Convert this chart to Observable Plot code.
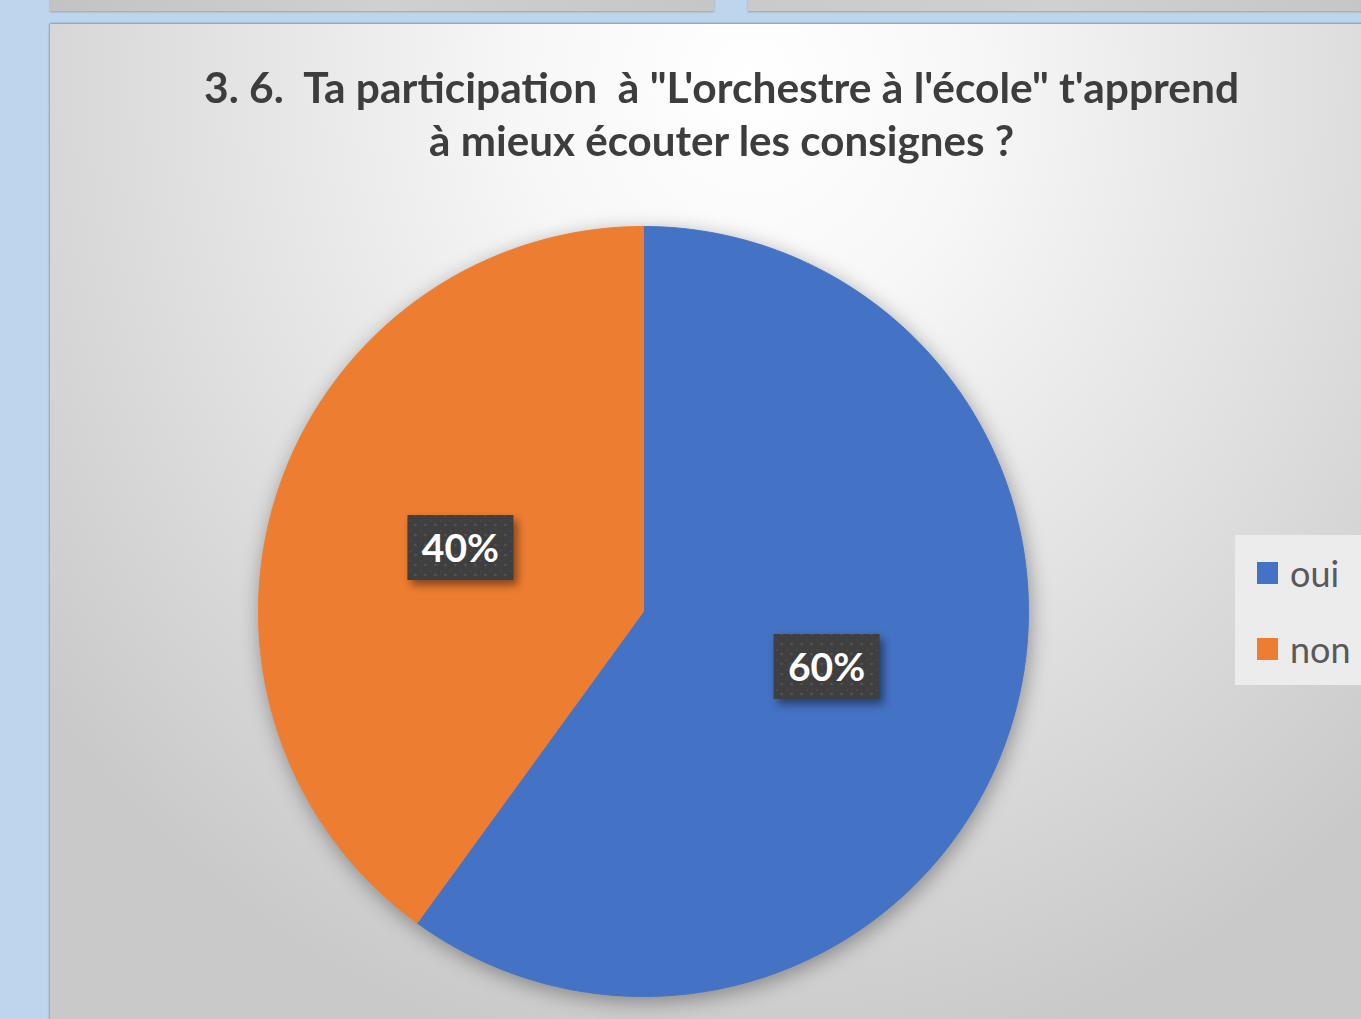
<!DOCTYPE html>
<html>
<head>
<meta charset="utf-8">
<script src="https://cdn.jsdelivr.net/npm/d3@7"></script>
<script src="https://cdn.jsdelivr.net/npm/@observablehq/plot@0.6"></script>
<style>
  html, body { margin: 0; padding: 0; }
  body { width: 1361px; height: 1019px; overflow: hidden; position: relative; background: #bdd6ee; font-family: Lato, "Open Sans", sans-serif; }
  .top1 { position: absolute; left: 50px; top: -4px; width: 664px; height: 15px; background: linear-gradient(90deg,#c3c3c3,#d0d0d0 50%,#c6c6c6); box-shadow: 0 1px 2px rgba(0,0,0,0.25); }
  .top2 { position: absolute; left: 748px; top: -4px; width: 620px; height: 15px; background: linear-gradient(90deg,#cacaca,#d0d0d0 50%,#c6c6c6); box-shadow: 0 1px 2px rgba(0,0,0,0.25); }
  .panel { position: absolute; left: 50px; top: 24px; width: 1330px; height: 1010px;
    background: radial-gradient(ellipse 900px 1000px at 700px 60px, #ffffff 0%, #f7f7f7 25%, #e2e2e2 60%, #c9c9c9 100%);
    box-shadow: 0 -1px 2px rgba(0,0,0,0.25), -1px 0 2px rgba(0,0,0,0.15); }
  .title { position: absolute; left: 0; top: 61px; width: 1443px; text-align: center; color: #3d3d3d; font-weight: 700; font-size: 42px; line-height: 53px; }
  .title span { display: inline-block; white-space: pre; transform-origin: center; }
  #chart { position: absolute; left: 0; top: 0; }
  #chart g[aria-label="line"] { filter: drop-shadow(2px 5px 10px rgba(0,0,0,0.35)); }
  .legend { position: absolute; left: 1235px; top: 535px; width: 140px; height: 150px; background: #ececec; }
  .item { position: absolute; left: 22px; height: 40px; color: #595959; font-size: 36px; line-height: 40px; }
  .item i { position: absolute; left: 0; top: 9px; width: 21px; height: 22px; }
  .item b { position: absolute; left: 33px; top: 0; font-weight: 400; white-space: nowrap; }
</style>
</head>
<body>
<div class="top1"></div>
<div class="top2"></div>
<div class="panel"></div>
<div class="title" id="title"></div>
<div id="chart"></div>
<div class="legend" id="legend"></div>
<script>
// ---- data ----
const titleLines = ["3. 6.  Ta participation  à \"L'orchestre à l'école\" t'apprend", "à mieux écouter les consignes ?"];
const categories = ["oui", "non"];
const values = [60, 40];
const pctLabels = ["60%", "40%"];
const colors = ["#4472c4", "#ed7d31"];

// ---- title ----
const titleEl = document.getElementById("title");
const titleWidths = [1035, 585];
titleLines.forEach((t, i) => {
  const s = document.createElement("span");
  s.textContent = t;
  titleEl.appendChild(s);
  titleEl.appendChild(document.createElement("br"));
  const w = s.getBoundingClientRect().width;
  s.style.transform = `scaleX(${titleWidths[i] / w})`;
});

// ---- pie geometry from data ----
const arcs = d3.pie().sort(null)(values);
const slicePts = [];
arcs.forEach((a, i) => {
  const cat = categories[i];
  slicePts.push({cat, x: 0, y: 0});
  const n = 360;
  for (let k = 0; k <= n; k++) {
    const ang = a.startAngle + (a.endAngle - a.startAngle) * k / n;
    slicePts.push({cat, x: Math.sin(ang), y: Math.cos(ang)});
  }
  slicePts.push({cat, x: 0, y: 0});
});
const labelData = arcs.map((a, i) => {
  const mid = (a.startAngle + a.endAngle) / 2;
  return {cat: categories[i], text: pctLabels[i], x: 0.5 * Math.sin(mid), y: 0.5 * Math.cos(mid)};
});

const chart = Plot.plot({
  width: 1361,
  height: 1019,
  margin: 0,
  style: {background: "transparent", overflow: "visible"},
  x: {domain: [-1, 1], range: [258, 1028], axis: null},
  y: {domain: [-1, 1], range: [996, 226], axis: null},
  color: {domain: categories, range: colors},
  marks: [
    Plot.line(slicePts, {x: "x", y: "y", z: "cat", fill: "cat", stroke: "cat", strokeWidth: 1, curve: "linear"}),
    Plot.text(labelData, {x: "x", y: "y", dy: -2, text: "text", fill: "white", fontSize: 39, fontWeight: "bold", fontFamily: "Lato, 'Open Sans', sans-serif"})
  ]
});
document.getElementById("chart").appendChild(chart);

// label boxes behind text
const NS = "http://www.w3.org/2000/svg";
const defs = document.createElementNS(NS, "defs");
defs.innerHTML = `<pattern id="dots" width="10" height="10" patternUnits="userSpaceOnUse">
  <rect width="10" height="10" fill="#3f3f3f"/>
  <circle cx="5" cy="5" r="1.3" fill="#555"/>
  <rect x="0" y="0" width="1" height="2" fill="#4e4e4e"/>
</pattern>`;
chart.insertBefore(defs, chart.firstChild);
chart.querySelectorAll('g[aria-label="text"] text').forEach(t => {
  const b = t.getBBox();
  const r = document.createElementNS(NS, "rect");
  const w = 106, h = 65;
  r.setAttribute("x", b.x + b.width / 2 - w / 2);
  r.setAttribute("y", b.y + b.height / 2 - h / 2);
  r.setAttribute("width", w);
  r.setAttribute("height", h);
  r.setAttribute("fill", "url(#dots)");
  if (t.getAttribute("transform")) r.setAttribute("transform", t.getAttribute("transform"));
  r.style.filter = "drop-shadow(4px 5px 4px rgba(0,0,0,0.45))";
  t.parentNode.insertBefore(r, t);
});

// ---- legend ----
const legend = document.getElementById("legend");
categories.forEach((c, i) => {
  const it = document.createElement("div");
  it.className = "item";
  it.style.top = (18 + i * 76) + "px";
  it.innerHTML = `<i style="background:${colors[i]}"></i><b>${c}</b>`;
  legend.appendChild(it);
});
</script>
</body>
</html>
